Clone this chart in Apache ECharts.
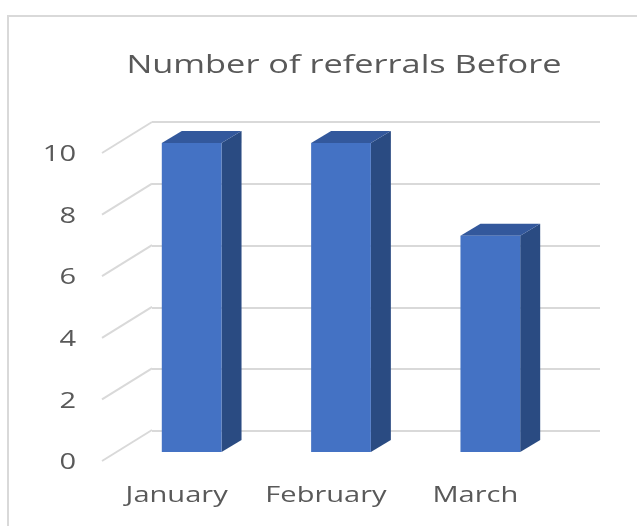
<!DOCTYPE html>
<html>
<head>
<meta charset="utf-8">
<script src="https://cdn.jsdelivr.net/npm/echarts@6/dist/echarts.min.js"></script>
<style>
  html, body { margin: 0; padding: 0; background: #fff; }
  #chart { width: 637px; height: 526px; }
</style>
</head>
<body>
<div id="chart"></div>
<script>
// chart data
const months = ['January', 'February', 'March'];
const referrals = [10, 10, 7];
const yTicks = [0, 2, 4, 6, 8, 10];

const depthX = 50, depthY = 31;   // wall depth (front plane -> back wall)
const stretch = 1.32;             // source picture is stretched sideways
const textColor = '#595959';

let chart = echarts.init(document.getElementById('chart'));

// 3D looking bar, drawn on the back wall grid
function renderBar(params, api) {
    let i = api.value(0), v = api.value(1);
    let top = api.coord([i, v]);
    let base = api.coord([i, 0]);
    let band = api.size([1, 0])[0];
    let w = band * 0.4;               // bar front width
    let dx = 20, dy = 12;             // bar depth
    let sx = -35, sy = 21;            // shift of bar front face from back wall
    let x0 = top[0] - w / 2 + sx;
    let x1 = x0 + w;
    let yt = top[1] + sy;
    let yb = base[1] + sy;
    return {
        type: 'group',
        children: [
            {   // side
                type: 'polygon',
                shape: { points: [[x1, yt], [x1 + dx, yt - dy], [x1 + dx, yb - dy], [x1, yb]] },
                style: { fill: '#2a4b82' }
            },
            {   // top
                type: 'polygon',
                shape: { points: [[x0, yt], [x1, yt], [x1 + dx, yt - dy], [x0 + dx, yt - dy]] },
                style: { fill: '#33589c' }
            },
            {   // front
                type: 'rect',
                shape: { x: x0, y: yt, width: w, height: yb - yt },
                style: { fill: '#4472c4' }
            }
        ]
    };
}

// diagonal part of gridlines + value labels on the front plane
function renderTick(params, api) {
    let v = api.value(0);
    let p = api.coord([0, v]);
    let x = params.coordSys.x;
    return {
        type: 'group',
        children: [
            {
                type: 'line',
                shape: { x1: x, y1: p[1], x2: x + depthX, y2: p[1] - depthY },
                style: { stroke: '#d9d9d9', lineWidth: 2 }
            },
            {
                type: 'text',
                x: x - 26, y: p[1] + 2, scaleX: stretch,
                style: {
                    text: String(v), align: 'right', verticalAlign: 'middle',
                    fontFamily: 'Open Sans', fontSize: 22, fill: textColor
                }
            }
        ]
    };
}

// month labels under the front plane
function renderMonth(params, api) {
    let i = api.value(0);
    let p = api.coord([i, 0]);
    return {
        type: 'text',
        x: p[0], y: p[1] + 35, scaleX: stretch,
        style: {
            text: months[i], align: 'center', verticalAlign: 'middle',
            fontFamily: 'Open Sans', fontSize: 22, fill: textColor
        }
    };
}

let option = {
    backgroundColor: '#fff',
    graphic: [
        {
            type: 'rect',
            shape: { x: 8, y: 16, width: 660, height: 540 },
            style: { fill: 'none', stroke: '#d9d9d9', lineWidth: 2 },
            silent: true
        },
        {
            type: 'text',
            x: 344, y: 66, scaleX: stretch,
            style: {
                text: 'Number of referrals Before', align: 'center', verticalAlign: 'middle',
                fontFamily: 'Open Sans', fontSize: 26, fill: textColor
            }
        }
    ],
    grid: [
        { left: 152, right: 37, top: 122, bottom: 95 },   // back wall
        { left: 102, right: 87, top: 153, bottom: 65 }    // front plane (labels)
    ],
    xAxis: [
        {
            gridIndex: 0, type: 'category', data: months,
            axisLine: { show: false }, axisTick: { show: false }, axisLabel: { show: false }
        },
        {
            gridIndex: 1, type: 'category', data: months,
            axisLine: { show: false }, axisTick: { show: false }, axisLabel: { show: false }
        }
    ],
    yAxis: [
        {
            gridIndex: 0, type: 'value', min: 0, max: 10, interval: 2,
            axisLabel: { show: false },
            splitLine: { lineStyle: { color: '#d9d9d9', width: 2 } }
        },
        {
            gridIndex: 1, type: 'value', min: 0, max: 10, interval: 2,
            splitLine: { show: false }, axisLabel: { show: false }
        }
    ],
    series: [
        {
            type: 'custom',
            xAxisIndex: 1, yAxisIndex: 1,
            renderItem: renderTick,
            data: yTicks.map(t => [t]),
            encode: { y: 0 },
            silent: true
        },
        {
            type: 'custom',
            xAxisIndex: 1, yAxisIndex: 1,
            renderItem: renderMonth,
            data: months.map((m, i) => [i]),
            encode: { x: 0 },
            silent: true
        },
        {
            type: 'custom',
            xAxisIndex: 0, yAxisIndex: 0,
            renderItem: renderBar,
            data: referrals.map((v, i) => [i, v]),
            encode: { x: 0, y: 1 },
            z: 3
        }
    ]
};
chart.setOption(option);
</script>
</body>
</html>
